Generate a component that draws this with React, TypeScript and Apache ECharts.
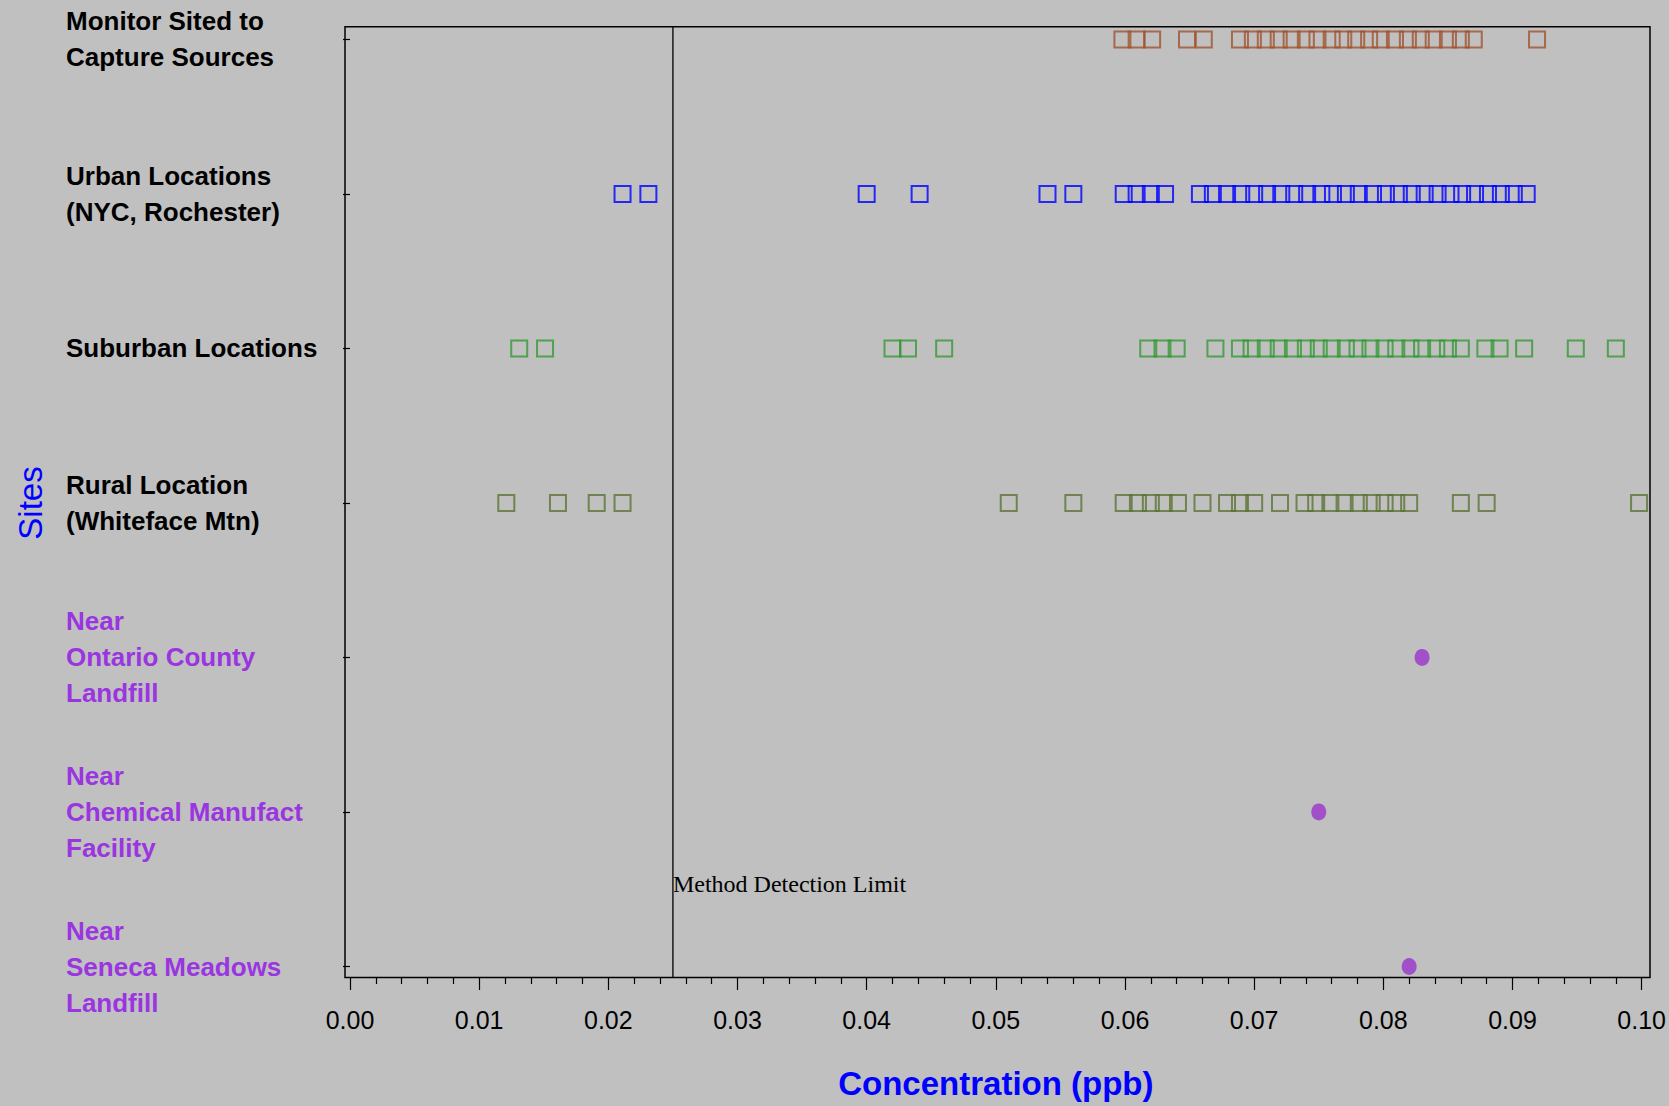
import React, { useEffect, useRef } from "react";
import * as echarts from "echarts";

// ---------- data ----------
const siteLabels = [
  "Monitor Sited to\nCapture Sources",
  "Urban Locations\n(NYC, Rochester)",
  "Suburban Locations",
  "Rural Location\n(Whiteface Mtn)",
  "Near\nOntario County\nLandfill",
  "Near\nChemical Manufact\nFacility",
  "Near\nSeneca Meadows\nLandfill",
];

const monitorValues = [
  0.0598, 0.0609, 0.0621, 0.0648, 0.0661, 0.0689, 0.0699, 0.0709, 0.0719, 0.0729,
  0.074, 0.0749, 0.076, 0.0769, 0.0779, 0.0789, 0.0798, 0.0809, 0.0819, 0.0829,
  0.0839, 0.085, 0.086, 0.087, 0.0919,
];

const urbanValues = [
  0.0211, 0.0231, 0.04, 0.0441, 0.054, 0.056, 0.0599, 0.0609, 0.062, 0.0631,
  0.0658, 0.0668, 0.0679, 0.069, 0.07, 0.071, 0.0721, 0.0731, 0.0741, 0.0752,
  0.0761, 0.0771, 0.0781, 0.0792, 0.0802, 0.0812, 0.0822, 0.0832, 0.0842, 0.0852,
  0.0861, 0.0871, 0.0881, 0.0891, 0.0901, 0.0911,
];

const suburbanValues = [
  0.0131, 0.0151, 0.042, 0.0432, 0.046, 0.0618, 0.0629, 0.064, 0.067, 0.0689,
  0.0698, 0.0709, 0.0719, 0.073, 0.074, 0.075, 0.076, 0.0771, 0.078, 0.079,
  0.0801, 0.081, 0.0821, 0.083, 0.0841, 0.085, 0.086, 0.0879, 0.089, 0.0909,
  0.0949, 0.098,
];

const ruralValues = [
  0.0121, 0.0161, 0.0191, 0.0211, 0.051, 0.056, 0.0599, 0.061, 0.062, 0.063,
  0.0641, 0.066, 0.0679, 0.0689, 0.07, 0.072, 0.0739, 0.0748, 0.0759, 0.077,
  0.0781, 0.0791, 0.0801, 0.081, 0.082, 0.086, 0.088, 0.0998,
];

const nearSourceRows = [4, 5, 6];
const nearSourceValues = [0.083, 0.075, 0.082];

const detectionLimit = 0.025;
const detectionLabel = "Method Detection Limit";
const xTitle = "Concentration (ppb)";
const yTitle = "Sites";

// ---------- styling ----------
const BG = "#C0C0C0";
const PURPLE = "#9933CC";
const LABEL_PURPLE = "#9A35E0";
const SANS = "Liberation Sans, Arial, sans-serif";

const squareSeries = (name: string, values: number[], row: number, color: string) => ({
  name,
  type: "scatter",
  symbol: "rect",
  symbolSize: 16,
  clip: false,
  itemStyle: { color: "rgba(0,0,0,0)", borderColor: color, borderWidth: 2 },
  data: values.map((v) => [v, row]),
});

export default function App() {
  const ref = useRef<HTMLDivElement>(null);

  useEffect(() => {
    document.body.style.margin = "0";
    document.body.style.background = BG;
    if (!ref.current) return;
    const chart = echarts.init(ref.current, undefined, { renderer: "svg" });

    const frame = { left: 345, top: 26.7, right: 1650, bottom: 977.5 };

    chart.setOption({
      animation: false,
      backgroundColor: BG,
      grid: { left: 350, right: 25.5, top: 39.4, bottom: 139.5, containLabel: false },
      xAxis: {
        type: "value",
        min: 0,
        max: 0.1,
        interval: 0.01,
        offset: 10.5,
        name: xTitle,
        nameLocation: "middle",
        nameGap: 90,
        nameTextStyle: { color: "#0000FF", fontSize: 33, fontWeight: "bold", fontFamily: SANS },
        axisLine: { show: false },
        axisTick: { show: true, length: 13, lineStyle: { color: "#000", width: 1.2 } },
        minorTick: { show: true, splitNumber: 5, length: 7, lineStyle: { color: "#000", width: 1.2 } },
        splitLine: { show: false },
        minorSplitLine: { show: false },
        axisLabel: {
          color: "#000",
          fontSize: 25,
          fontFamily: SANS,
          margin: 30,
          formatter: (v: number) => v.toFixed(2),
        },
      },
      yAxis: {
        type: "category",
        data: siteLabels,
        inverse: true,
        boundaryGap: false,
        offset: 5,
        name: yTitle,
        nameLocation: "middle",
        nameRotate: 90,
        nameGap: 298,
        nameTextStyle: { color: "#0000FF", fontSize: 33, fontFamily: SANS },
        axisLine: { show: false },
        axisTick: { show: true, length: 7, lineStyle: { color: "#000", width: 1.2 } },
        splitLine: { show: false },
        axisLabel: {
          align: "left",
          margin: 279,
          fontSize: 26,
          fontWeight: "bold",
          lineHeight: 36,
          fontFamily: SANS,
          color: (_v: string, i: number) => (i >= 4 ? LABEL_PURPLE : "#000"),
        },
      },
      series: [
        squareSeries("Monitor", monitorValues, 0, "#A0522D"),
        squareSeries("Urban", urbanValues, 1, "#0000FF"),
        squareSeries("Suburban", suburbanValues, 2, "#339933"),
        squareSeries("Rural", ruralValues, 3, "#5B7334"),
        {
          name: "Near sources",
          type: "scatter",
          symbol: "circle",
          symbolSize: [15, 17],
          itemStyle: { color: PURPLE },
          data: nearSourceValues.map((v, i) => [v, nearSourceRows[i]]),
        },
      ],
    });

    const mdlX = chart.convertToPixel({ xAxisIndex: 0 }, detectionLimit) as number;

    chart.setOption({
      graphic: [
        {
          type: "rect",
          z: 100,
          shape: {
            x: frame.left,
            y: frame.top,
            width: frame.right - frame.left,
            height: frame.bottom - frame.top,
          },
          style: { fill: "none", stroke: "#000", lineWidth: 1.5 },
        },
        {
          type: "line",
          z: 100,
          shape: { x1: mdlX, y1: frame.top, x2: mdlX, y2: frame.bottom },
          style: { stroke: "#000", lineWidth: 1.3 },
        },
        {
          type: "text",
          z: 100,
          x: mdlX,
          y: 884,
          style: {
            text: detectionLabel,
            fill: "#000",
            font: "24px 'Liberation Serif', 'Times New Roman', serif",
            textAlign: "left",
            textVerticalAlign: "middle",
          },
        },
      ],
    });

    return () => chart.dispose();
  }, []);

  return <div ref={ref} style={{ width: 1669, height: 1106, background: BG }} />;
}
